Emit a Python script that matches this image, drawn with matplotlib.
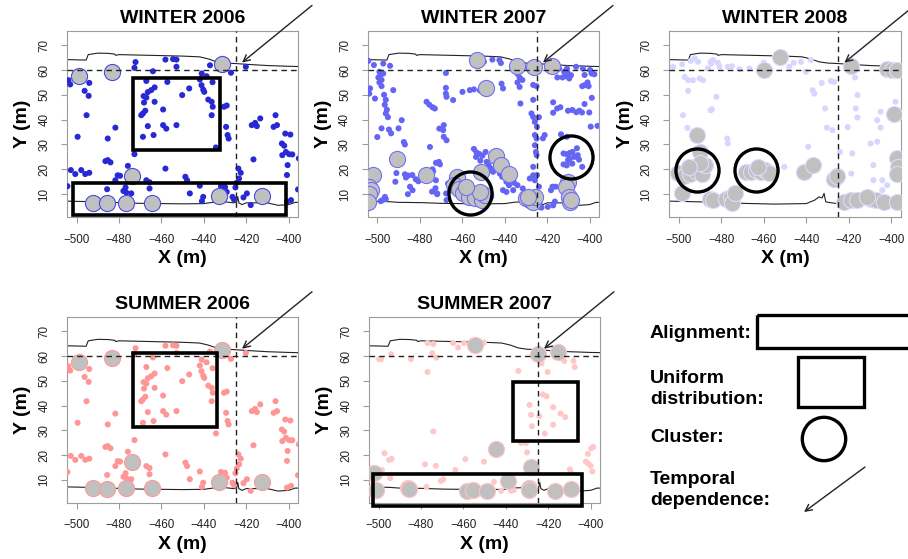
import matplotlib
matplotlib.use('Agg')
import matplotlib.pyplot as plt
from matplotlib.patches import Rectangle, Circle

plt.rcParams['font.family'] = ['Liberation Sans', 'DejaVu Sans']

# ---------------- data ----------------
# Winter / Summer 2006 small points (same locations)
x06 = [-472.2,-472.7,-458.1,-454.5,-452.9,-452.9,-437.1,-427.2,-420.2,-464.0,-441.0,
       -503.8,-503.0,-494.0,-496.2,-494.3,-495.3,-499.5,-485.3,-481.7,-485.3,-484.0,-486.4,
       -502.7,-500.6,-497.8,-495.9,-494.0,-475.8,-472.7,-480.6,-479.5,-481.7,-504.3,-485.6,
       -477.9,-476.6,-474.2,-476.9,
       -466.4,-468.4,-467.1,-464.8,-463.2,-467.1,-468.2,-468.7,-467.6,-469.5,-463.2,-466.4,
       -468.7,-463.7,-459.2,-459.2,-457.7,-452.9,-457.2,-450.2,-446.9,-441.9,-441.1,-440.3,
       -439.8,-437.9,-436.3,-435.8,-436.3,-438.7,-435.9,-434.3,-430.5,-429.2,-429.5,-428.8,-428.3,
       -417.4,-415.8,-415.0,-413.4,-416.6,-406.2,-405.5,-407.1,-401.6,-399.2,-403.2,-402.1,
       -401.3,-399.8,-398.3,-400.5,-400.8,-395.2,-403.0,
       -467.1,-465.6,-465.6,-458.1,-448.7,-447.9,-446.6,-441.9,-440.3,-440.9,-431.9,-430.0,
       -429.2,-426.5,-425.8,-423.7,-422.6,-423.4,-424.5,-425.1,-421.3,-419.7,-417.9,-400.8,
       -398.9,-395.6]
y06 = [63.2,60.9,64.2,64.4,64.2,61.3,61.9,58.9,61.3,59.5,58.6,
       55.9,54.2,54.8,51.6,49.6,41.8,33.1,32.4,36.8,23.7,22.8,23.3,
       19.7,18.1,19.7,18.1,18.6,21.4,26.1,17.6,17.4,15.6,13.2,12.0,
       11.3,10.7,10.3,12.7,
       51.1,49.5,48.9,51.9,53.0,55.6,46.9,42.5,43.6,41.8,47.2,37.4,
       33.1,33.8,44.1,37.8,36.4,37.8,55.2,49.9,52.6,56.2,53.9,52.1,
       51.2,48.1,47.2,45.2,41.8,57.5,55.1,28.8,45.2,45.7,37.1,33.8,32.4,
       37.8,38.7,37.4,40.5,24.0,41.8,37.8,37.1,34.4,34.0,30.4,29.5,
       27.0,26.1,26.0,21.7,17.7,24.4,25.7,
       15.6,14.8,12.3,20.3,17.0,15.6,10.3,13.4,8.9,7.2,13.2,12.9,
       10.9,8.9,7.9,20.3,18.6,16.3,14.6,12.7,8.7,10.3,5.6,6.9,
       7.6,11.9]
bx06 = [-498.7,-483.4,-431.6,-473.8,-492.4,-485.8,-476.6,-464.3,-432.7,-412.6]
by06 = [57.5,59.3,62.6,17.4,6.6,6.5,6.6,6.6,9.2,9.2]

# Winter 2007
x07w = [-504.2,-501.6,-497.2,-494.0,-499.0,-498.5,-499.5,-498.0,-499.0,-498.0,-497.2,
        -503.4,-503.8,-501.1,-496.8,-496.0,-496.5,-495.5,-496.0,-495.0,-492.5,-488.5,
        -494.5,-498.0,-493.5,-500.0,-490.0,-487.5,-487.0,
        -476.8,-475.5,-474.0,-472.9,-467.7,-467.7,-467.7,-467.4,-464.3,
        -459.9,-456.4,-454.5,-451.7,-450.5,-449.8,-445.8,-442.5,-441.8,-440.8,-441.5,
        -470.8,-468.7,-469.0,-468.7,-467.4,-475.2,-472.4,-471.0,-470.5,-474.0,-473.7,
        -472.4,-472.6,-471.8,
        -454.5,-453.3,-452.0,-453.5,-450.5,-449.0,-451.5,-448.5,-447.6,-446.5,-445.5,-448.5,
        -487.0,-486.5,-485.5,-483.5,-481.9,-480.7,-484.6,-483.4,-485.6,-491.0,-491.5,
        -496.4,-497.6,-498.4,-496.0,-474.2,-471.8,-466.7,-465.0,-467.6,-467.4,
        -434.0,-433.0,-431.7,-434.0,-433.0,-426.6,-425.0,-432.6,-426.6,-427.4,-426.6,-425.8,
        -424.8,-423.9,-425.8,-425.0,-425.8,-425.3,-425.0,-426.6,-424.8,-425.8,-423.9,
        -421.2,-422.0,
        -415.7,-414.4,-412.0,-410.7,-410.4,-408.8,-409.6,-411.2,-412.8,-415.2,-417.2,-406.4,
        -403.2,-402.4,-399.8,-399.1,-397.8,-401.0,-402.4,-403.5,-400.5,-399.0,-402.4,-404.8,
        -406.3,-408.2,-410.2,-413.8,-415.3,-417.2,-417.2,-403.6,-400.2,-396.3,-399.5,-410.7,-413.5,
        -412.3,-410.8,-409.3,-408.1,-407.2,-405.6,-405.0,-409.4,-410.2,-408.2,-410.8,-412.3,
        -403.5,-406.0,
        -418.2,-417.5,-416.0,-423.5,-422.7,-419.7,-417.2,-416.4,
        -440.8,-439.2,-436.0,-446.4,-447.9,-442.3,-441.2,-439.2,-438.0,-435.6,-434.0,-431.5,
        -428.2,-426.6]
y07w = [63.7,62.0,62.6,61.7,59.3,58.0,57.0,56.0,55.0,53.5,58.6,
        52.6,50.5,48.5,50.0,48.0,46.0,44.0,42.5,41.0,51.9,39.8,
        36.0,36.5,34.5,33.0,36.5,31.0,30.0,
        47.2,46.0,45.0,44.5,58.8,52.8,50.5,49.2,47.9,
        51.2,51.9,52.2,51.8,52.5,63.3,64.2,64.0,62.8,52.6,54.5,
        36.4,37.8,35.8,33.1,31.7,29.0,22.6,23.0,22.0,20.0,19.2,
        15.6,12.4,10.0,
        28.2,26.8,26.2,25.0,25.5,27.0,23.5,23.0,21.7,20.3,19.0,18.3,
        18.0,16.7,17.5,17.7,16.0,15.2,13.0,11.6,10.0,18.5,15.0,
        8.9,7.6,7.2,8.0,11.0,10.3,14.3,13.0,10.3,7.6,
        58.5,57.0,56.0,55.0,53.2,54.0,53.5,46.5,48.0,42.5,41.1,39.1,
        37.1,41.0,33.8,32.4,29.7,27.0,25.7,21.0,17.7,15.6,13.0,
        33.8,32.5,
        61.3,60.6,59.3,60.6,58.9,57.9,56.6,57.5,57.0,57.0,59.2,61.3,
        60.6,58.0,60.0,58.6,58.3,55.0,53.9,53.5,53.5,48.8,46.3,43.6,
        43.0,43.9,43.6,45.0,44.5,47.0,42.8,42.9,42.9,37.5,37.2,33.1,34.1,
        26.4,26.1,26.6,27.0,25.0,25.7,23.9,24.3,23.7,22.3,21.6,22.0,
        21.0,28.5,
        11.6,13.0,13.0,4.9,4.6,4.9,5.5,7.0,
        11.6,10.9,11.6,8.9,10.3,18.3,17.0,15.0,13.6,14.6,13.6,12.3,
        16.3,17.6]
bx07w = [-453.0,-434.0,-426.0,-417.7,-449.0,-490.9,-502.2,-504.0,-503.2,-503.8,-504.2,-477.1,
         -462.7,-464.0,-461.4,-459.6,-456.7,-454.1,-450.9,-449.4,-451.7,-458.3,-451.3,
         -444.2,-441.8,-437.9,-430.1,-428.2,-426.6,-425.9,-429.0,
         -410.2,-411.0,-409.7,-409.4,-408.6]
by07w = [64.0,61.8,61.3,61.5,52.8,24.0,17.7,13.0,11.6,10.0,6.8,17.7,
         17.0,13.6,11.9,10.3,8.9,8.3,7.6,9.6,11.0,13.0,19.0,
         25.3,21.7,18.0,8.3,7.6,6.9,8.9,8.9,
         15.0,13.0,8.9,6.9,7.6]

# Winter 2008
x08w = [-502.7,-498.4,-497.2,-495.6,-494.4,-492.5,-490.9,-490.2,-493.3,-495.6,-484.7,-483.9,
        -485.0,-481.6,-480.8,-486.3,-482.3,-485.0,-484.4,-498.0,-495.9,-488.6,
        -476.9,-475.0,-471.4,-466.7,-460.0,-448.0,-445.9,-442.5,-440.2,-437.8,-437.0,-436.2,
        -432.7,-428.4,-426.9,-431.1,-430.3,-427.7,-415.9,-416.7,-415.9,-405.0,-406.6,-405.0,
        -409.7,-406.6,-408.4,-418.8,-424.1,-418.3,-404.2,-408.4,-401.9,-404.2,-450.3,-439.1,
        -476.9,-477.2,-398.0,-420.5,-417.0]
y08w = [61.3,62.3,57.2,55.9,63.7,64.6,63.3,56.6,55.9,51.6,62.6,64.0,
        63.3,62.9,61.3,60.6,49.2,43.8,44.2,41.8,36.7,55.9,
        61.3,61.5,60.3,60.6,62.9,61.3,62.9,63.3,59.3,64.0,51.9,50.5,
        54.8,55.6,55.2,44.5,36.8,35.8,49.9,44.5,40.9,43.2,39.8,36.8,
        30.4,31.1,21.7,18.3,27.0,26.4,11.6,15.6,13.6,15.6,21.0,29.1,
        30.4,32.4,47.2,37.0,57.0]
bx08w = [-452.2,-460.0,-418.8,-402.2,-399.5,-397.2,-491.2,-490.2,-398.8,-397.2,-396.9,-397.5,
         -500.5,-497.5,-494.5,-492.0,-489.0,-487.5,-490.0,-495.0,
         -498.4,-485.5,-483.9,-477.7,-475.5,-475.0,-473.5,
         -468.5,-466.2,-463.8,-461.5,-459.2,-457.7,-462.5,
         -441.2,-436.6,-426.9,-425.3,
         -422.2,-419.1,-415.9,-409.7,-407.3,-403.4,-397.2,-411.5]
by08w = [65.3,60.2,61.7,60.6,60.2,60.0,33.8,27.0,42.2,24.4,21.0,18.3,
         18.5,17.3,18.0,19.5,18.3,21.7,22.5,21.0,
         10.5,8.2,7.8,8.2,8.9,6.5,10.3,
         19.0,19.0,19.7,19.0,19.7,18.7,21.0,
         19.0,21.7,16.3,17.2,
         6.9,7.8,7.6,8.2,7.6,6.9,6.9,9.0]

# Summer 2007
x07s = [-499.7,-498.8,-494.1,-484.7,-476.9,-476.9,-474.2,-474.7,-472.7,-464.8,-462.5,-459.7,
        -450.3,-434.1,-423.1,-420.3,-412.5,-408.1,-407.5,
        -428.8,-428.1,-427.7,-424.2,-422.5,-420.8,-421.6,-417.7,-417.7,-414.2,-412.0,
        -474.2,-432.8,-430.5,-430.0,-497.2,-495.0,-493.8,-498.4,-494.5,
        -478.1,-473.0,-459.1,-450.3,-463.8,-470.6,-469.5,-445.6,-442.2,-437.5,-436.3,-460.5,
        -477.4,-401.3,-398.8,-399.7,-402.3,-401.3,-400.0,-399.2,-409.8,-409.4]
y07s = [58.8,58.8,60.8,58.8,65.3,53.6,64.9,61.2,59.4,65.3,63.5,65.3,
        65.5,54.0,57.1,53.6,58.1,58.1,55.6,
        40.3,36.3,31.7,35.7,44.5,43.8,28.7,39.4,32.3,36.8,35.4,
        29.6,24.9,24.9,21.1,20.8,18.1,18.5,14.0,10.7,
        16.3,15.7,18.4,17.4,14.0,9.6,10.2,9.2,5.6,5.6,5.9,5.6,
        7.2,20.5,23.3,22.8,17.4,16.7,15.7,13.4,14.3,13.0]
bx07s = [-454.7,-424.7,-415.6,-444.5,-428.1,-502.0,-501.0,-486.2,-485.6,-458.1,-455.5,-448.8,
         -438.8,-429.2,-429.0,-416.9,-409.4]
by07s = [64.4,60.8,61.7,22.4,15.4,13.0,6.0,6.6,6.2,5.6,5.9,5.6,
         9.6,6.6,6.0,5.6,6.2]

# coastline boundaries
top_x = [-505,-495.5,-494.5,-490,-485,-482,-481.5,-480,-470,-460,-450,-442,-438,-434,-430,-425,-420,-410,-400,-395]
top_y = [64.2,64.0,66.2,66.8,66.7,66.4,65.9,66.2,66.0,65.8,65.6,65.3,64.5,63.3,62.8,62.6,62.3,61.8,61.5,61.4]
bot_x = [-505,-495,-490,-480,-470,-460,-450,-440,-435,-430,-426,-424.5,-424,-423.5,-422,-420,-410,-405,-400,-397,-395]
bot_y = [7.2,7.0,6.7,6.6,6.3,6.2,6.1,6.2,6.8,6.9,6.5,6.9,9.0,6.5,5.8,6.5,6.5,5.5,5.8,6.7,6.7]
bot08_x = [-505,-495,-485,-470,-455,-440,-436,-434,-432.5,-431.6,-430.8,-428,-425,-420,-410,-400,-395]
bot08_y = [7.2,7.0,6.8,6.3,6.0,6.2,7.6,8.9,8.5,10.3,6.9,6.5,6.2,6.2,6.0,6.2,6.4]

# annotations (data units): (x0, y0, x1, y1)
boxes = {
    'W06': [(-473.3, 27.7, -432.2, 56.6), (-501.8, 1.8, -401.3, 14.3)],
    'W07': [],
    'W08': [],
    'S06': [(-473.2, 31.2, -434.0, 61.2)],
    'S07': [(-436.4, 25.9, -406.2, 49.5), (-502.8, -0.6, -403.9, 12.4)],
}
clusters = {
    'W06': [], 'S06': [], 'S07': [],
    'W07': [(-456.4, 10.3), (-408.6, 24.8)],
    'W08': [(-491.2, 19.9), (-463.6, 19.9)],
}

panels = [
    ('WINTER 2006', 'W06', x06, y06, bx06, by06, '#2828d4', '#4a4ae0', bot_x, bot_y,
     [0.0738, 0.6118, 0.2544, 0.3327]),
    ('WINTER 2007', 'W07', x07w, y07w, bx07w, by07w, '#6464f5', '#7070f5', bot_x, bot_y,
     [0.405, 0.6118, 0.2547, 0.3327]),
    ('WINTER 2008', 'W08', x08w, y08w, bx08w, by08w, '#d6d6ff', '#dcdcff', bot08_x, bot08_y,
     [0.737, 0.6118, 0.2548, 0.3327]),
    ('SUMMER 2006', 'S06', x06, y06, bx06, by06, '#ff9696', '#ff9a9a', bot_x, bot_y,
     [0.0738, 0.1007, 0.2544, 0.3317]),
    ('SUMMER 2007', 'S07', x07s, y07s, bx07s, by07s, '#ffc8c8', '#ffc4c4', bot_x, bot_y,
     [0.4064, 0.1007, 0.2544, 0.3317]),
]

fig = plt.figure(figsize=(9.08, 5.59), dpi=100)
frame_col = '#9c9c9c'

for title, key, xs, ys, bxs, bys, col, ecol, bx_line, by_line, pos in panels:
    ax = fig.add_axes(pos)
    ax.set_xlim(-504.5, -395.6)
    ax.set_ylim(0.8, 75.7)
    ax.plot(top_x, top_y, color='#222222', lw=0.8, zorder=2)
    ax.plot(bx_line, by_line, color='#222222', lw=0.8, zorder=2)
    ax.scatter(xs, ys, s=19, color=col, edgecolors='none', zorder=3)
    ax.scatter(bxs, bys, s=135, facecolor='#c0c0c0', edgecolors=ecol, linewidths=0.8, zorder=4)
    ax.axhline(60, color='#222222', lw=1.0, ls=(0, (4, 3)), zorder=5)
    ax.axvline(-425, color='#222222', lw=1.0, ls=(0, (4, 3)), zorder=5)
    for (x0, y0, x1, y1) in boxes[key]:
        ax.add_patch(Rectangle((x0, y0), x1 - x0, y1 - y0, fill=False, ec='black',
                               lw=2.6, zorder=6, clip_on=False))
    for (cx, cy) in clusters[key]:
        ax.plot([cx], [cy], marker='o', ms=31, mfc='none', mec='black', mew=2.4,
                zorder=6, clip_on=False)
    ax.annotate('', xy=(-422, 63), xytext=(-389, 86), annotation_clip=False,
                arrowprops=dict(arrowstyle='->', color='#222222', lw=1.0,
                                mutation_scale=12, shrinkA=0, shrinkB=0), zorder=7)
    ax.set_title(title, fontsize=14, fontweight='bold', pad=6)
    ax.set_xlabel('X (m)', fontsize=14, fontweight='bold', labelpad=3)
    ax.set_ylabel('Y (m)', fontsize=14, fontweight='bold', labelpad=5)
    ax.set_xticks([-500, -480, -460, -440, -420, -400])
    ax.set_yticks([10, 20, 30, 40, 50, 60, 70])
    ax.tick_params(axis='both', direction='out', length=4, width=0.8, color=frame_col,
                   labelsize=8.4, labelcolor='#222222', pad=8)
    for lab in ax.get_yticklabels():
        lab.set_rotation(90)
        lab.set_va('center')
    for sp in ax.spines.values():
        sp.set_color(frame_col)
        sp.set_linewidth(0.8)

# legend panel drawn in figure pixel space
lg = fig.add_axes([0, 0, 1, 1], facecolor='none')
lg.set_xlim(0, 908)
lg.set_ylim(559, 0)
lg.axis('off')
lg.text(650, 333, 'Alignment:', fontsize=14, fontweight='bold', va='center', ha='left')
lg.add_patch(Rectangle((757, 315), 160, 33, fill=False, ec='black', lw=2.4))
lg.text(650, 389, 'Uniform\ndistribution:', fontsize=14, fontweight='bold', va='center',
        ha='left', linespacing=1.3)
lg.add_patch(Rectangle((798, 357), 66, 50, fill=False, ec='black', lw=2.4))
lg.text(650, 438, 'Cluster:', fontsize=14, fontweight='bold', va='center', ha='left')
lg.add_patch(Circle((824, 439), 21.7, fill=False, ec='black', lw=2.4))
lg.text(650, 490, 'Temporal\ndependence:', fontsize=14, fontweight='bold', va='center',
        ha='left', linespacing=1.3)
lg.annotate('', xy=(804, 512), xytext=(865, 467),
            arrowprops=dict(arrowstyle='->', color='#222222', lw=1.0,
                            mutation_scale=12, shrinkA=0, shrinkB=0))

fig.savefig('out.png', dpi=100)
